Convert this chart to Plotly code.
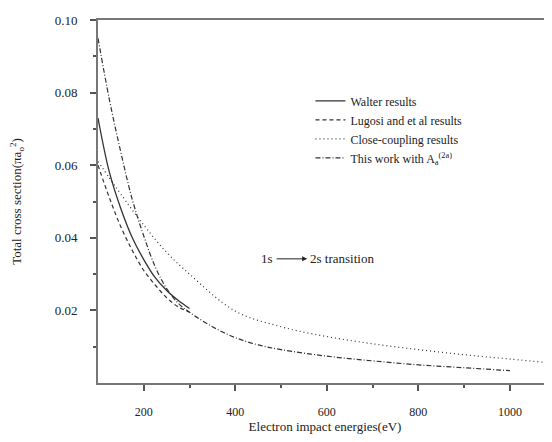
import plotly.graph_objects as go

# Walter results
walter_e = [100, 125, 150, 175, 200, 225, 250, 275, 300]
walter_s = [0.073, 0.058, 0.048, 0.040, 0.034, 0.029, 0.0255, 0.0228, 0.0205]

# Lugosi and et al results
lugosi_e = [100, 125, 150, 175, 200, 225, 250, 275, 300]
lugosi_s = [0.060, 0.051, 0.043, 0.0365, 0.031, 0.027, 0.0235, 0.021, 0.0195]

# Close-coupling results
cc_e = [100, 125, 150, 200, 250, 300, 400, 500, 600, 700, 800, 900, 1000, 1100]
cc_s = [0.061, 0.0565, 0.052, 0.0435, 0.036, 0.030, 0.0198, 0.0155, 0.0128, 0.0108, 0.0092, 0.0078, 0.0066, 0.0054]

# This work with A_a^(2a)
tw_e = [100, 125, 150, 175, 200, 225, 250, 275, 300, 350, 400, 450, 500, 600, 700, 800, 900, 1000]
tw_s = [0.095, 0.078, 0.0635, 0.0505, 0.0405, 0.032, 0.026, 0.022, 0.0195, 0.0155, 0.0125, 0.0105, 0.0092, 0.0074, 0.0061, 0.0050, 0.0042, 0.0034]

y_ticks = [0.02, 0.04, 0.06, 0.08, 0.10]
y_labels = ["0.02", "0.04", "0.06", "0.08", "0.10"]
x_ticks = [200, 400, 600, 800, 1000]
x_labels = ["200", "400", "600", "800", "1000"]

FONT = "Liberation Serif"
LC = "#333333"

fig = go.Figure()
fig.add_trace(go.Scatter(x=walter_e, y=walter_s, mode="lines", name="Walter results",
                         line=dict(color=LC, width=1.3, dash="solid", shape="spline")))
fig.add_trace(go.Scatter(x=lugosi_e, y=lugosi_s, mode="lines", name="Lugosi and et al results",
                         line=dict(color=LC, width=1.2, dash="4px,3px", shape="spline")))
fig.add_trace(go.Scatter(x=cc_e, y=cc_s, mode="lines", name="Close-coupling results",
                         line=dict(color=LC, width=1.2, dash="1px,3px", shape="spline")))
fig.add_trace(go.Scatter(x=tw_e, y=tw_s, mode="lines",
                         name="This work with A<sub>a</sub><sup>(2a)</sup>",
                         line=dict(color=LC, width=1.2, dash="5px,2px,1px,2px", shape="spline")))

fig.add_annotation(x=470, y=0.0342, xref="x", yref="y", text="1s", showarrow=False,
                   font=dict(family=FONT, size=13, color="#222"))
fig.add_annotation(x=557, y=0.0342, ax=487, ay=0.0342, xref="x", yref="y", axref="x", ayref="y",
                   text="", showarrow=True, arrowhead=2, arrowsize=1, arrowwidth=1, arrowcolor="#222")
fig.add_annotation(x=559, y=0.0342, xref="x", yref="y", text="2s transition", showarrow=False,
                   xanchor="left", font=dict(family=FONT, size=13, color="#222"))

fig.update_layout(
    width=544, height=434,
    margin=dict(l=90, r=0, t=12, b=59),
    paper_bgcolor="white", plot_bgcolor="white",
    font=dict(family=FONT, size=12, color="#222"),
    showlegend=True,
    legend=dict(x=0.468, y=0.817, xanchor="left", yanchor="top",
                bgcolor="rgba(0,0,0,0)", font=dict(family=FONT, size=12, color="#222"),
                tracegroupgap=0, itemwidth=30),
    xaxis=dict(range=[100, 1092], tickvals=x_ticks, ticktext=x_labels, automargin=False,
               showgrid=False, zeroline=False, showline=True, linecolor="#777", linewidth=2,
               mirror=True, ticks="outside", ticklen=6, tickcolor="#555", tickwidth=1.5,
               ticklabelstandoff=11,
               minor=dict(tickvals=[300, 500, 700, 900], ticks="outside", ticklen=3, tickcolor="#555"),
               title=dict(text="Electron impact energies(eV)", font=dict(family=FONT, size=13), standoff=0),
               tickfont=dict(family=FONT, size=12)),
    yaxis=dict(range=[0, 0.1], tickvals=y_ticks, ticktext=y_labels, automargin=False,
               showgrid=False, zeroline=False, showline=True, linecolor="#777", linewidth=2,
               mirror=False, ticks="outside", ticklen=6, tickcolor="#555", tickwidth=1.5,
               ticklabelstandoff=10,
               minor=dict(tickvals=[0.01, 0.03, 0.05, 0.07, 0.09], ticks="outside", ticklen=3, tickcolor="#555"),
               title=dict(text="Total cross section(πa<sub>o</sub><sup>2</sup>)", font=dict(family=FONT, size=13), standoff=30),
               tickfont=dict(family=FONT, size=13)),
)

fig.write_html("out.html")
